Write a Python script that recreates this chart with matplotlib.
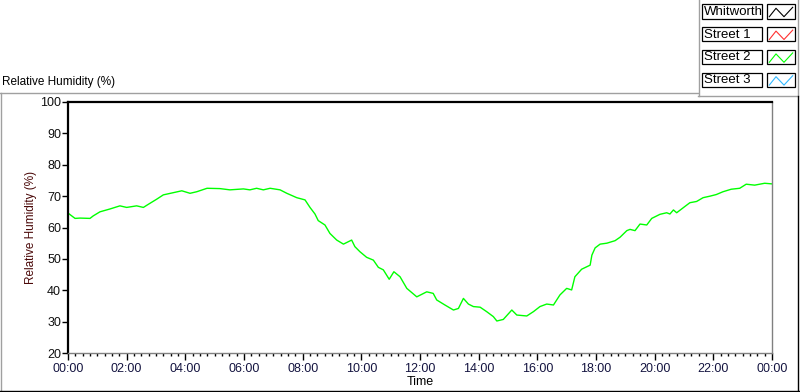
import numpy as np
import matplotlib
matplotlib.use("Agg")
import matplotlib.pyplot as plt
from matplotlib.lines import Line2D
from matplotlib.patches import Rectangle

plt.rcParams['font.family'] = ['Liberation Sans', 'DejaVu Sans']

# Street 2 humidity (hours since midnight, %RH)
hours = [0.00, 0.24, 0.41, 0.75, 0.86, 1.09, 1.43, 1.77, 2.00, 2.34, 2.57, 2.74,
         3.02, 3.25, 3.59, 3.88, 4.16, 4.39, 4.74, 5.18, 5.52, 5.98, 6.20, 6.43,
         6.66, 6.89, 7.23, 7.46, 7.80, 8.08, 8.25, 8.42, 8.53, 8.76, 8.93, 9.16,
         9.39, 9.67, 9.78, 9.95, 10.18, 10.41, 10.58, 10.75, 10.95, 11.11, 11.32,
         11.55, 11.89, 12.23, 12.45, 12.57, 12.85, 13.14, 13.31, 13.48, 13.65,
         13.82, 14.05, 14.27, 14.50, 14.62, 14.84, 15.13, 15.30, 15.64, 15.87,
         16.09, 16.32, 16.55, 16.77, 17.00, 17.17, 17.28, 17.51, 17.80, 17.86,
         17.97, 18.14, 18.37, 18.65, 18.82, 19.05, 19.16, 19.33, 19.50, 19.73,
         19.90, 20.18, 20.41, 20.52, 20.64, 20.75, 21.03, 21.20, 21.43, 21.65,
         21.89, 22.10, 22.33, 22.61, 22.90, 23.12, 23.41, 23.75, 24.00]
street2 = [64.6, 62.9, 63.0, 62.9, 63.7, 65.0, 65.9, 66.9, 66.4, 66.9, 66.4, 67.4,
           69.0, 70.4, 71.1, 71.7, 70.9, 71.4, 72.5, 72.4, 72.0, 72.3, 72.0, 72.5,
           72.0, 72.5, 72.0, 70.9, 69.5, 68.8, 66.4, 64.3, 62.2, 60.8, 58.1, 56.0,
           54.7, 56.0, 53.9, 52.3, 50.5, 49.6, 47.3, 46.5, 43.5, 45.9, 44.3,
           40.6, 37.9, 39.5, 39.0, 36.9, 35.3, 33.7, 34.2, 37.4, 35.6,
           34.8, 34.6, 33.2, 31.6, 30.2, 30.7, 33.7, 32.1, 31.8, 33.2,
           34.8, 35.6, 35.3, 38.5, 40.6, 40.1, 44.3, 46.7, 48.0, 51.2,
           53.5, 54.7, 55.0, 55.8, 56.9, 59.0, 59.4, 59.0, 61.1, 60.8,
           62.9, 64.2, 64.7, 64.3, 65.6, 64.7, 66.7, 67.9, 68.3, 69.5,
           70.0, 70.5, 71.4, 72.2, 72.5, 73.8, 73.5, 74.1, 73.9]

legend_names = ["Whitworth", "Street 1", "Street 2", "Street 3"]
legend_colors = ["#000000", "#ff3030", "#00ff00", "#30b8ff"]

x_major = np.arange(0, 25, 2)
x_labels = ["%02d:00" % (h % 24) for h in x_major]
y_major = np.arange(20, 101, 10)

W, H = 800, 392
fig = plt.figure(figsize=(W / 100, H / 100), dpi=100)


def fx(px):
    return px / W


def fy(py):
    return 1 - py / H


ax = fig.add_axes([fx(68), fy(353), fx(772) - fx(68), fy(102) - fy(353)])
ax.plot(hours, street2, color="#00ff00", lw=1.0)

ax.set_xlim(0, 24)
ax.set_ylim(20, 100)
ax.set_xticks(x_major)
ax.set_xticklabels(x_labels)
ax.set_xticks(np.arange(0, 24.01, 0.25), minor=True)
ax.set_yticks(y_major)
ax.tick_params(axis='x', which='major', length=5, width=1, color='black',
               labelsize=9, labelcolor='#141440', pad=2)
ax.tick_params(axis='x', which='minor', length=2.5, width=1, color='black')
ax.tick_params(axis='y', which='major', length=4, width=1, color='black',
               labelsize=9, labelcolor='#101010', pad=1)
ax.spines['top'].set_linewidth(1.6)
ax.spines['left'].set_linewidth(1.6)
ax.spines['right'].set_color('#808080')
ax.spines['bottom'].set_color('#808080')
ax.spines['right'].set_linewidth(1.0)
ax.spines['bottom'].set_linewidth(1.0)

ax.set_xlabel("Time", fontsize=9, labelpad=1)
ax.set_ylabel("Relative Humidity (%)", fontsize=8.5, color='#4a0808', labelpad=2)

fig.text(fx(2), fy(82), "Relative Humidity (%)", fontsize=8.5, va='center', ha='left')

# panel frame lines
def fline(x0, y0, x1, y1, c, lw=1.0):
    fig.add_artist(Line2D([fx(x0), fx(x1)], [fy(y0), fy(y1)], color=c, lw=lw,
                          transform=fig.transFigure))


fline(0, 92.5, 698, 92.5, '#a0a0a0')
fline(0.5, 92.5, 0.5, 391, '#a0a0a0')
fline(698.5, 0, 698.5, 95.5, '#a0a0a0')
fline(698, 95.5, 797, 95.5, '#a0a0a0')
fline(797.5, 0, 797.5, 95.5, '#a0a0a0')
fline(0, 390.5, 800, 390.5, '#000000')
fline(797.5, 95.5, 797.5, 391, '#000000')

# LabVIEW-style plot legend
zig_x = [2.0, 8.7, 16.7, 25.4]
zig_y = [12.4, 4.0, 12.4, 3.0]
for i, (name, col) in enumerate(zip(legend_names, legend_colors)):
    top = 4.3 + i * 22.8
    hgt = 14.2
    fig.add_artist(Rectangle((fx(702.3), fy(top + hgt)), fx(60), hgt / H,
                             transform=fig.transFigure, fc='white', ec='black', lw=0.9))
    fig.add_artist(Rectangle((fx(767.3), fy(top + hgt)), fx(28), hgt / H,
                             transform=fig.transFigure, fc='white', ec='black', lw=0.9))
    fig.text(fx(704), fy(top + hgt / 2 + 0.5), name, fontsize=9.5, va='center', ha='left')
    fig.add_artist(Line2D([fx(767.3 + z) for z in zig_x], [fy(top + z) for z in zig_y],
                          color=col, lw=0.8, transform=fig.transFigure))

fig.savefig("out.png", dpi=100)
